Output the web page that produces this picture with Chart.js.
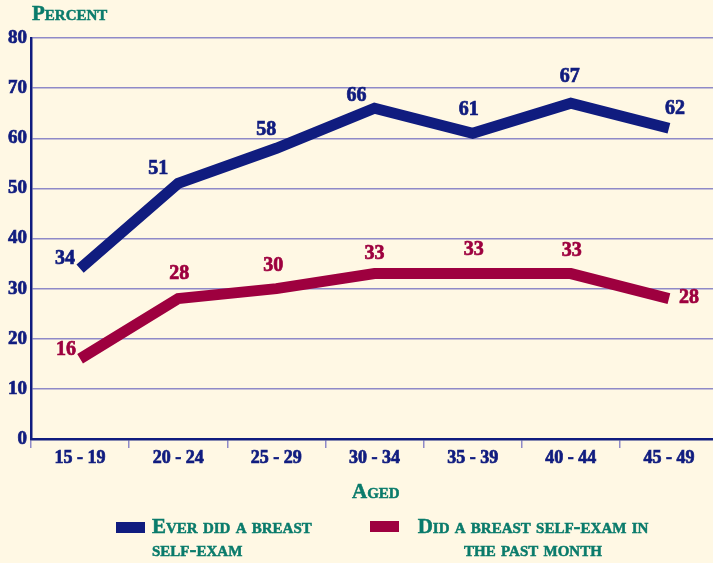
<!DOCTYPE html>
<html>
<head>
<meta charset="utf-8">
<script src="https://cdn.jsdelivr.net/npm/chart.js@4"></script>
<style>
html, body { margin: 0; padding: 0; background: #fff8e4; overflow: hidden; }
#wrap { position: relative; width: 713px; height: 563px; overflow: hidden; }
canvas { position: absolute; left: 0; top: 0; }
.lbl { position: absolute; font-family: "Liberation Serif", serif; font-weight: bold; font-size: 21px;
       font-variant: small-caps; color: #0a7b6b; line-height: 23px; white-space: nowrap;
       -webkit-text-stroke: 0.5px #0a7b6b; }
.swatch { position: absolute; width: 29px; height: 11px; }
</style>
</head>
<body>
<div id="wrap">
  <canvas id="myChart" width="718" height="563"></canvas>
  <div class="lbl" style="left:32px; top:2px;">Percent</div>
  <div class="lbl" style="left:352px; top:480px;">Aged</div>
  <div class="swatch" id="sw0" style="left:116px; top:522px;"></div>
  <div class="lbl" style="left:152px; top:515px;">Ever did a breast<br>self-exam</div>
  <div class="swatch" id="sw1" style="left:370px; top:521px;"></div>
  <div class="lbl" style="left:533px; top:515px; transform:translateX(-50%); text-align:center;">Did a breast self-exam in<br>the past month</div>
</div>
<script>
// datos
var ageGroups = ["15 - 19", "20 - 24", "25 - 29", "30 - 34", "35 - 39", "40 - 44", "45 - 49"];
var everDid = [34, 51, 58, 66, 61, 67, 62];
var pastMonth = [16, 28, 30, 33, 33, 33, 28];
var yMin = 0, yMax = 80, yStep = 10;

var navy = "#101c7f";
var wine = "#9e003f";
var grid = "#8f8ac8";

// desplazamiento de cada etiqueta respecto a su punto (solo estilo)
var everOffsets = [[-15, -10], [-20, -15], [-10, -18], [-18, -12], [-4, -23], [-1, -26], [6, -19]];
var pastOffsets = [[-14, -9], [1, -25], [-3, -23], [0, -20], [1, -24], [1, -23], [20, -1]];

document.getElementById("sw0").style.background = navy;
document.getElementById("sw1").style.background = wine;

var valueLabels = {
    id: "valueLabels",
    afterDatasetsDraw: function(chart) {
        var ctx = chart.ctx;
        ctx.save();
        ctx.font = "bold 20px 'Liberation Serif'";
        ctx.textAlign = "center";
        ctx.textBaseline = "middle";
        ctx.lineWidth = 0.7;
        chart.data.datasets.forEach(function(ds, d) {
            var meta = chart.getDatasetMeta(d);
            var offs = d == 0 ? everOffsets : pastOffsets;
            ctx.fillStyle = ds.borderColor;
            ctx.strokeStyle = ds.borderColor;
            meta.data.forEach(function(pt, i) {
                var tx = pt.x + offs[i][0], ty = pt.y + offs[i][1];
                ctx.fillText(String(ds.data[i]), tx, ty);
                ctx.strokeText(String(ds.data[i]), tx, ty);
            });
        });
        ctx.restore();
    }
};

var ctx = document.getElementById("myChart").getContext("2d");
var myChart = new Chart(ctx, {
    type: "line",
    data: {
        labels: ageGroups,
        datasets: [
            {
                label: "Ever did a breast self-exam",
                data: everDid,
                borderColor: navy,
                backgroundColor: navy,
                borderWidth: 11,
                borderCapStyle: "butt",
                borderJoinStyle: "miter",
                pointRadius: 0,
                tension: 0,
                clip: false
            },
            {
                label: "Did a breast self-exam in the past month",
                data: pastMonth,
                borderColor: wine,
                backgroundColor: wine,
                borderWidth: 11,
                borderCapStyle: "butt",
                borderJoinStyle: "miter",
                pointRadius: 0,
                tension: 0,
                clip: false
            }
        ]
    },
    options: {
        responsive: false,
        animation: false,
        layout: { padding: { top: 38, left: 0, right: 0, bottom: 0 } },
        plugins: {
            legend: { display: false },
            tooltip: { enabled: false }
        },
        scales: {
            x: {
                offset: true,
                grid: { offset: true, drawOnChartArea: false, color: grid, lineWidth: 1.5, tickLength: 9 },
                border: { color: navy, width: 2.5 },
                ticks: {
                    color: navy, padding: 0, textStrokeColor: navy, textStrokeWidth: 0.7,
                    font: { family: "Liberation Serif", weight: "bold", size: 18 }
                },
                afterFit: function(scale) { scale.height = 124; }
            },
            y: {
                min: yMin,
                max: yMax,
                grid: { color: grid, lineWidth: 1.5, drawTicks: false },
                border: { color: navy, width: 2.5 },
                ticks: {
                    stepSize: yStep, color: navy, padding: 4, textStrokeColor: navy, textStrokeWidth: 0.7,
                    font: { family: "Liberation Serif", weight: "bold", size: 19 }
                },
                afterFit: function(scale) { scale.width = 31; }
            }
        }
    },
    plugins: [valueLabels]
});
</script>
</body>
</html>
